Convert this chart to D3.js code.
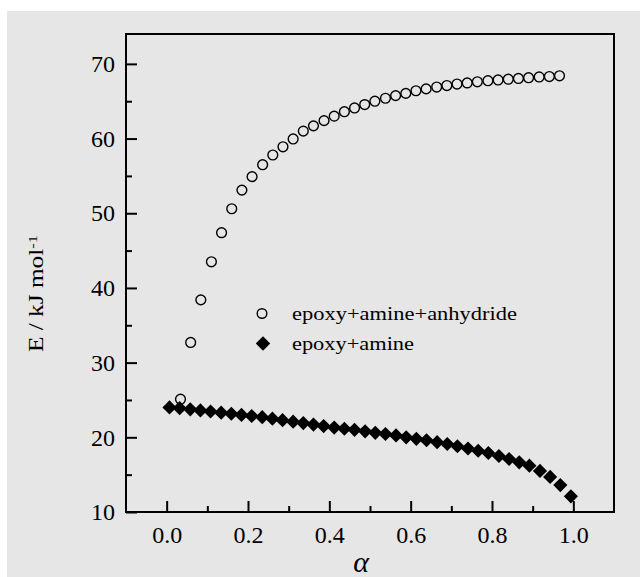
<!DOCTYPE html>
<html>
<head>
<meta charset="utf-8">
<script src="https://cdn.jsdelivr.net/npm/d3@7"></script>
<style>
  html, body { margin: 0; padding: 0; background: #fff; }
  svg { display: block; }
  text { font-family: 'Liberation Serif', 'Times New Roman', serif; fill: #000; }
</style>
</head>
<body>
<svg id="chart" width="640" height="577"></svg>
<script>
// epoxy+amine+anhydride (open circles)
const alphaAnhydride = [0.034, 0.059, 0.084, 0.110, 0.135, 0.160, 0.185, 0.210, 0.236, 0.261,
  0.286, 0.311, 0.336, 0.361, 0.387, 0.412, 0.437, 0.462, 0.487, 0.512,
  0.538, 0.563, 0.588, 0.613, 0.638, 0.664, 0.689, 0.714, 0.739, 0.764,
  0.790, 0.815, 0.840, 0.865, 0.890, 0.916, 0.941, 0.966];
const energyAnhydride = [25.1, 32.7, 38.4, 43.5, 47.4, 50.6, 53.1, 54.9, 56.5, 57.8,
  58.9, 59.95, 61.0, 61.7, 62.4, 63.0, 63.6, 64.1, 64.55, 65.0,
  65.4, 65.75, 66.05, 66.4, 66.65, 66.9, 67.1, 67.3, 67.45, 67.6,
  67.75, 67.85, 67.95, 68.05, 68.15, 68.25, 68.3, 68.4];

// epoxy+amine (filled diamonds)
const alphaAmine = [0.007, 0.032, 0.058, 0.083, 0.108, 0.134, 0.159, 0.184, 0.209, 0.235,
  0.260, 0.285, 0.311, 0.336, 0.361, 0.386, 0.412, 0.437, 0.462, 0.488,
  0.513, 0.538, 0.564, 0.589, 0.614, 0.639, 0.665, 0.690, 0.715, 0.741,
  0.766, 0.791, 0.817, 0.842, 0.867, 0.892, 0.918, 0.943, 0.968, 0.994];
const energyAmine = [24.0, 23.9, 23.75, 23.6, 23.45, 23.3, 23.15, 23.0, 22.85, 22.7,
  22.5, 22.3, 22.1, 21.9, 21.7, 21.5, 21.3, 21.15, 21.0, 20.8,
  20.6, 20.45, 20.25, 20.0, 19.8, 19.6, 19.35, 19.1, 18.8, 18.5,
  18.2, 17.9, 17.5, 17.1, 16.65, 16.2, 15.5, 14.7, 13.6, 12.1];

const xMajorTicks = [0, 0.2, 0.4, 0.6, 0.8, 1.0];
const xMinorTicks = [0.1, 0.3, 0.5, 0.7, 0.9];
const yMajorTicks = [10, 20, 30, 40, 50, 60, 70];
const yMinorTicks = [15, 25, 35, 45, 55, 65];
const legendLabels = ["epoxy+amine+anhydride", "epoxy+amine"];

const svg = d3.select("#chart");
const plotLeft = 126, plotRight = 614, plotTop = 34, plotBottom = 512;

// gray page background
svg.append("rect")
    .attr("x", 7).attr("y", 11)
    .attr("width", 633).attr("height", 566)
    .attr("fill", "#e6e6e6");

const x = d3.scaleLinear().domain([-0.1, 1.1]).range([plotLeft, plotRight]);
const y = d3.scaleLinear().domain([10, 74]).range([plotBottom, plotTop]);

// axes (ticks point inward)
svg.append("g")
    .attr("transform", `translate(0,${plotBottom})`)
    .call(d3.axisBottom(x).tickValues(xMajorTicks).tickFormat(d3.format(".1f"))
        .tickSizeInner(-11).tickSizeOuter(0).tickPadding(14));
svg.append("g")
    .attr("transform", `translate(0,${plotBottom})`)
    .call(d3.axisBottom(x).tickValues(xMinorTicks).tickFormat("")
        .tickSizeInner(-6).tickSizeOuter(0));

svg.append("g")
    .attr("transform", `translate(${plotLeft},0)`)
    .call(d3.axisLeft(y).tickValues(yMajorTicks).tickFormat(d3.format("d"))
        .tickSizeInner(-11).tickSizeOuter(0).tickPadding(11));
svg.append("g")
    .attr("transform", `translate(${plotLeft},0)`)
    .call(d3.axisLeft(y).tickValues(yMinorTicks).tickFormat("")
        .tickSizeInner(-6).tickSizeOuter(0));

svg.selectAll(".domain").remove();
svg.selectAll(".tick line").attr("stroke", "#000").attr("stroke-width", 2);
svg.selectAll(".tick text")
    .style("font-family", "'Liberation Serif', serif")
    .style("font-size", "24px")
    .attr("fill", "#000");

// frame
svg.append("rect")
    .attr("x", plotLeft).attr("y", plotTop)
    .attr("width", plotRight - plotLeft).attr("height", plotBottom - plotTop)
    .attr("fill", "none")
    .attr("stroke", "#000")
    .attr("stroke-width", 2);

// data
const circlePts = alphaAnhydride.map((a, i) => ({a: a, e: energyAnhydride[i]}));
const diamondPts = alphaAmine.map((a, i) => ({a: a, e: energyAmine[i]}));

svg.append("g").selectAll("circle")
    .data(circlePts)
    .enter()
    .append("circle")
    .attr("cx", d => x(d.a))
    .attr("cy", d => y(d.e))
    .attr("r", 4.9)
    .attr("fill", "none")
    .attr("stroke", "#000")
    .attr("stroke-width", 1.4);

const diamond = d3.symbol().type(d3.symbolSquare).size(100);
svg.append("g").selectAll("path")
    .data(diamondPts)
    .enter()
    .append("path")
    .attr("d", diamond)
    .attr("transform", d => `translate(${x(d.a)},${y(d.e)}) rotate(45)`)
    .attr("fill", "#000");

// legend
const legend = svg.append("g");
legend.append("circle")
    .attr("cx", 262).attr("cy", 313.5)
    .attr("r", 4.8)
    .attr("fill", "none")
    .attr("stroke", "#000")
    .attr("stroke-width", 1.4);
legend.append("path")
    .attr("d", d3.symbol().type(d3.symbolSquare).size(104))
    .attr("transform", "translate(263,343.5) rotate(45)")
    .attr("fill", "#000");
legend.selectAll("text")
    .data(legendLabels)
    .enter()
    .append("text")
    .attr("x", 292)
    .attr("y", (d, i) => 319.5 + i * 30.5)
    .attr("textLength", (d, i) => i === 0 ? 225 : 122)
    .attr("lengthAdjust", "spacingAndGlyphs")
    .style("font-size", "19px")
    .text(d => d);

// axis titles
svg.append("text")
    .attr("x", 361)
    .attr("y", 572)
    .attr("text-anchor", "middle")
    .style("font-size", "30px")
    .style("font-style", "italic")
    .text("α");

const yTitle = svg.append("text")
    .attr("transform", "translate(43,352) rotate(-90)")
    .attr("textLength", 117)
    .attr("lengthAdjust", "spacingAndGlyphs")
    .style("font-size", "20px");
yTitle.append("tspan").text("E / kJ mol");
yTitle.append("tspan")
    .attr("dy", "-0.45em")
    .style("font-size", "13px")
    .text("-1");
</script>
</body>
</html>
